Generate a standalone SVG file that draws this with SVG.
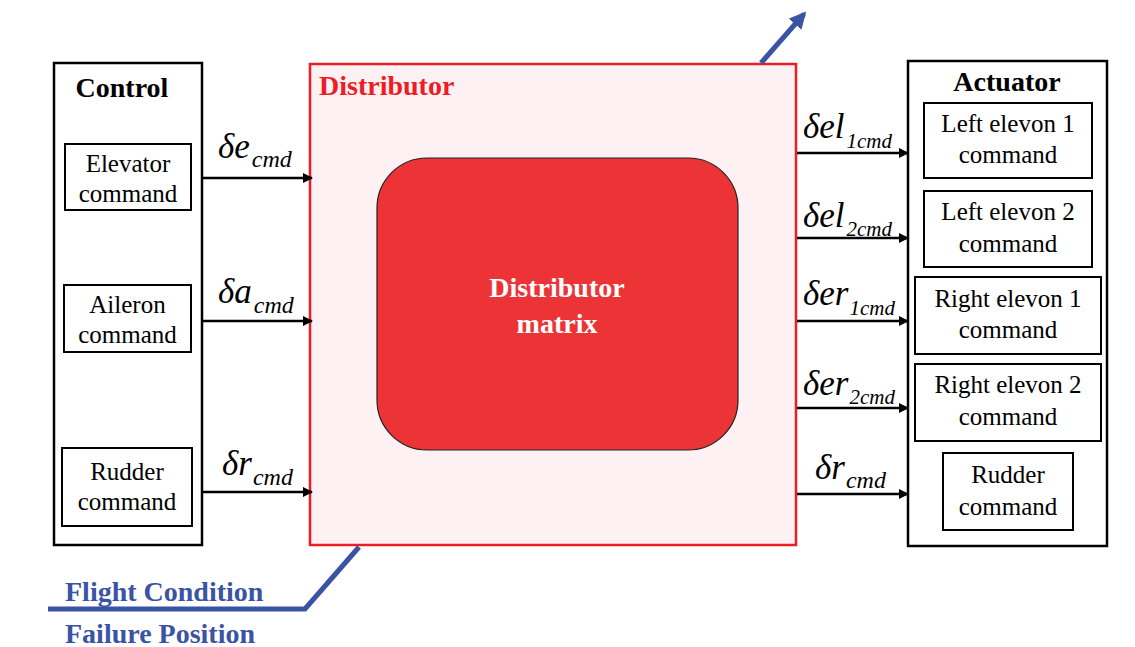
<svg xmlns="http://www.w3.org/2000/svg" width="1135" height="647" viewBox="0 0 1135 647">
<defs>
<style>
text{font-family:"Liberation Serif","Times New Roman",Times,"DejaVu Serif",serif}
.box{fill:#fff;stroke:#000;stroke-width:2.5}
.ibox{fill:#fff;stroke:#000;stroke-width:2}
.t{font-size:25px;fill:#000;text-anchor:middle}
.h{font-size:28px;font-weight:bold;fill:#000}
.m{font-style:italic;fill:#000;font-size:35px}
.s{font-size:24px}
.blue{font-size:28px;font-weight:bold;fill:#3A53A4}
.conn{stroke:#000;stroke-width:2.5;fill:none;marker-end:url(#ah)}
</style>
<marker id="ah" viewBox="0 0 10 10" refX="9" refY="5" markerWidth="4" markerHeight="4" orient="auto" markerUnits="strokeWidth">
<path d="M0,0 L10,5 L0,10 Z" fill="#000"/>
</marker>
<marker id="bh" viewBox="0 0 10 10" refX="8" refY="5" markerWidth="3.4" markerHeight="3.4" orient="auto" markerUnits="strokeWidth">
<path d="M0,0 L10,5 L0,10 Z" fill="#3A53A4"/>
</marker>
</defs>
<rect width="1135" height="647" fill="#fff"/>

<g id="control">
<rect class="box" x="54" y="63" width="148" height="482"/>
<text class="h" x="122" y="97" text-anchor="middle">Control</text>
</g>
<g id="elevator-cmd">
<rect class="ibox" x="65" y="144" width="126" height="66"/>
<text class="t" x="128" y="172">Elevator</text>
<text class="t" x="128" y="202">command</text>
</g>
<g id="aileron-cmd">
<rect class="ibox" x="64" y="285" width="127" height="67"/>
<text class="t" x="127.5" y="313">Aileron</text>
<text class="t" x="127.5" y="343">command</text>
</g>
<g id="rudder-cmd">
<rect class="ibox" x="62" y="448" width="130" height="78"/>
<text class="t" x="127" y="480">Rudder</text>
<text class="t" x="127" y="510">command</text>
</g>

<g id="distributor">
<rect x="310" y="64" width="486" height="481" fill="#FDF1F3" stroke="#EE1C25" stroke-width="2.5"/>
<text class="h" x="319" y="95" style="fill:#EE1C25">Distributor</text>
</g>
<g id="distributor-matrix">
<rect x="377" y="158" width="361" height="292" rx="50" ry="50" fill="#EC3437" stroke="#222" stroke-width="1.2"/>
<text class="h" x="557" y="297" text-anchor="middle" style="fill:#fff">Distributor</text>
<text class="h" x="557" y="333" text-anchor="middle" style="fill:#fff">matrix</text>
</g>

<g id="actuator">
<rect class="box" x="908" y="61" width="199" height="485"/>
<text class="h" x="1007" y="91" text-anchor="middle">Actuator</text>
</g>
<g id="left-elevon-1">
<rect class="ibox" x="924" y="103" width="168" height="75"/>
<text class="t" x="1008" y="132">Left elevon 1</text>
<text class="t" x="1008" y="163">command</text>
</g>
<g id="left-elevon-2">
<rect class="ibox" x="924" y="191" width="168" height="76"/>
<text class="t" x="1008" y="220">Left elevon 2</text>
<text class="t" x="1008" y="252">command</text>
</g>
<g id="right-elevon-1">
<rect class="ibox" x="915" y="277" width="186" height="77"/>
<text class="t" x="1008" y="307">Right elevon 1</text>
<text class="t" x="1008" y="338">command</text>
</g>
<g id="right-elevon-2">
<rect class="ibox" x="915" y="364" width="186" height="77"/>
<text class="t" x="1008" y="393">Right elevon 2</text>
<text class="t" x="1008" y="425">command</text>
</g>
<g id="rudder-act">
<rect class="ibox" x="943" y="453" width="130" height="77"/>
<text class="t" x="1008" y="483">Rudder</text>
<text class="t" x="1008" y="515">command</text>
</g>

<g id="connectors">
<line class="conn" x1="203" y1="178" x2="312" y2="178"/>
<line class="conn" x1="203" y1="321" x2="312" y2="321"/>
<line class="conn" x1="203" y1="492" x2="312" y2="492"/>
<line class="conn" x1="797" y1="153" x2="908" y2="153"/>
<line class="conn" x1="797" y1="238" x2="908" y2="238"/>
<line class="conn" x1="797" y1="321" x2="908" y2="321"/>
<line class="conn" x1="797" y1="408" x2="908" y2="408"/>
<line class="conn" x1="797" y1="494" x2="908" y2="494"/>
<polyline points="48,609 305,609 359,547" fill="none" stroke="#3A53A4" stroke-width="5"/>
<line x1="761" y1="63" x2="804" y2="14" stroke="#3A53A4" stroke-width="5" marker-end="url(#bh)"/>
</g>

<g id="labels">
<text class="m" x="218" y="158">δe<tspan class="s" dx="2" dy="9">cmd</tspan></text>
<text class="m" x="218" y="303">δa<tspan class="s" dx="2" dy="10">cmd</tspan></text>
<text class="m" x="222" y="475">δr<tspan class="s" dx="1" dy="10">cmd</tspan></text>
<text class="m" x="803" y="138">δel<tspan class="s" dx="2" dy="10" style="font-size:21px">1cmd</tspan></text>
<text class="m" x="803" y="227">δel<tspan class="s" dx="2" dy="9" style="font-size:21px">2cmd</tspan></text>
<text class="m" x="803" y="305">δer<tspan class="s" dx="1" dy="10" style="font-size:21px">1cmd</tspan></text>
<text class="m" x="803" y="395">δer<tspan class="s" dx="1" dy="9" style="font-size:21px">2cmd</tspan></text>
<text class="m" x="815" y="479">δr<tspan class="s" dx="1" dy="9">cmd</tspan></text>
<text class="blue" x="65" y="601">Flight Condition</text>
<text class="blue" x="65" y="643">Failure Position</text>
</g>
</svg>
